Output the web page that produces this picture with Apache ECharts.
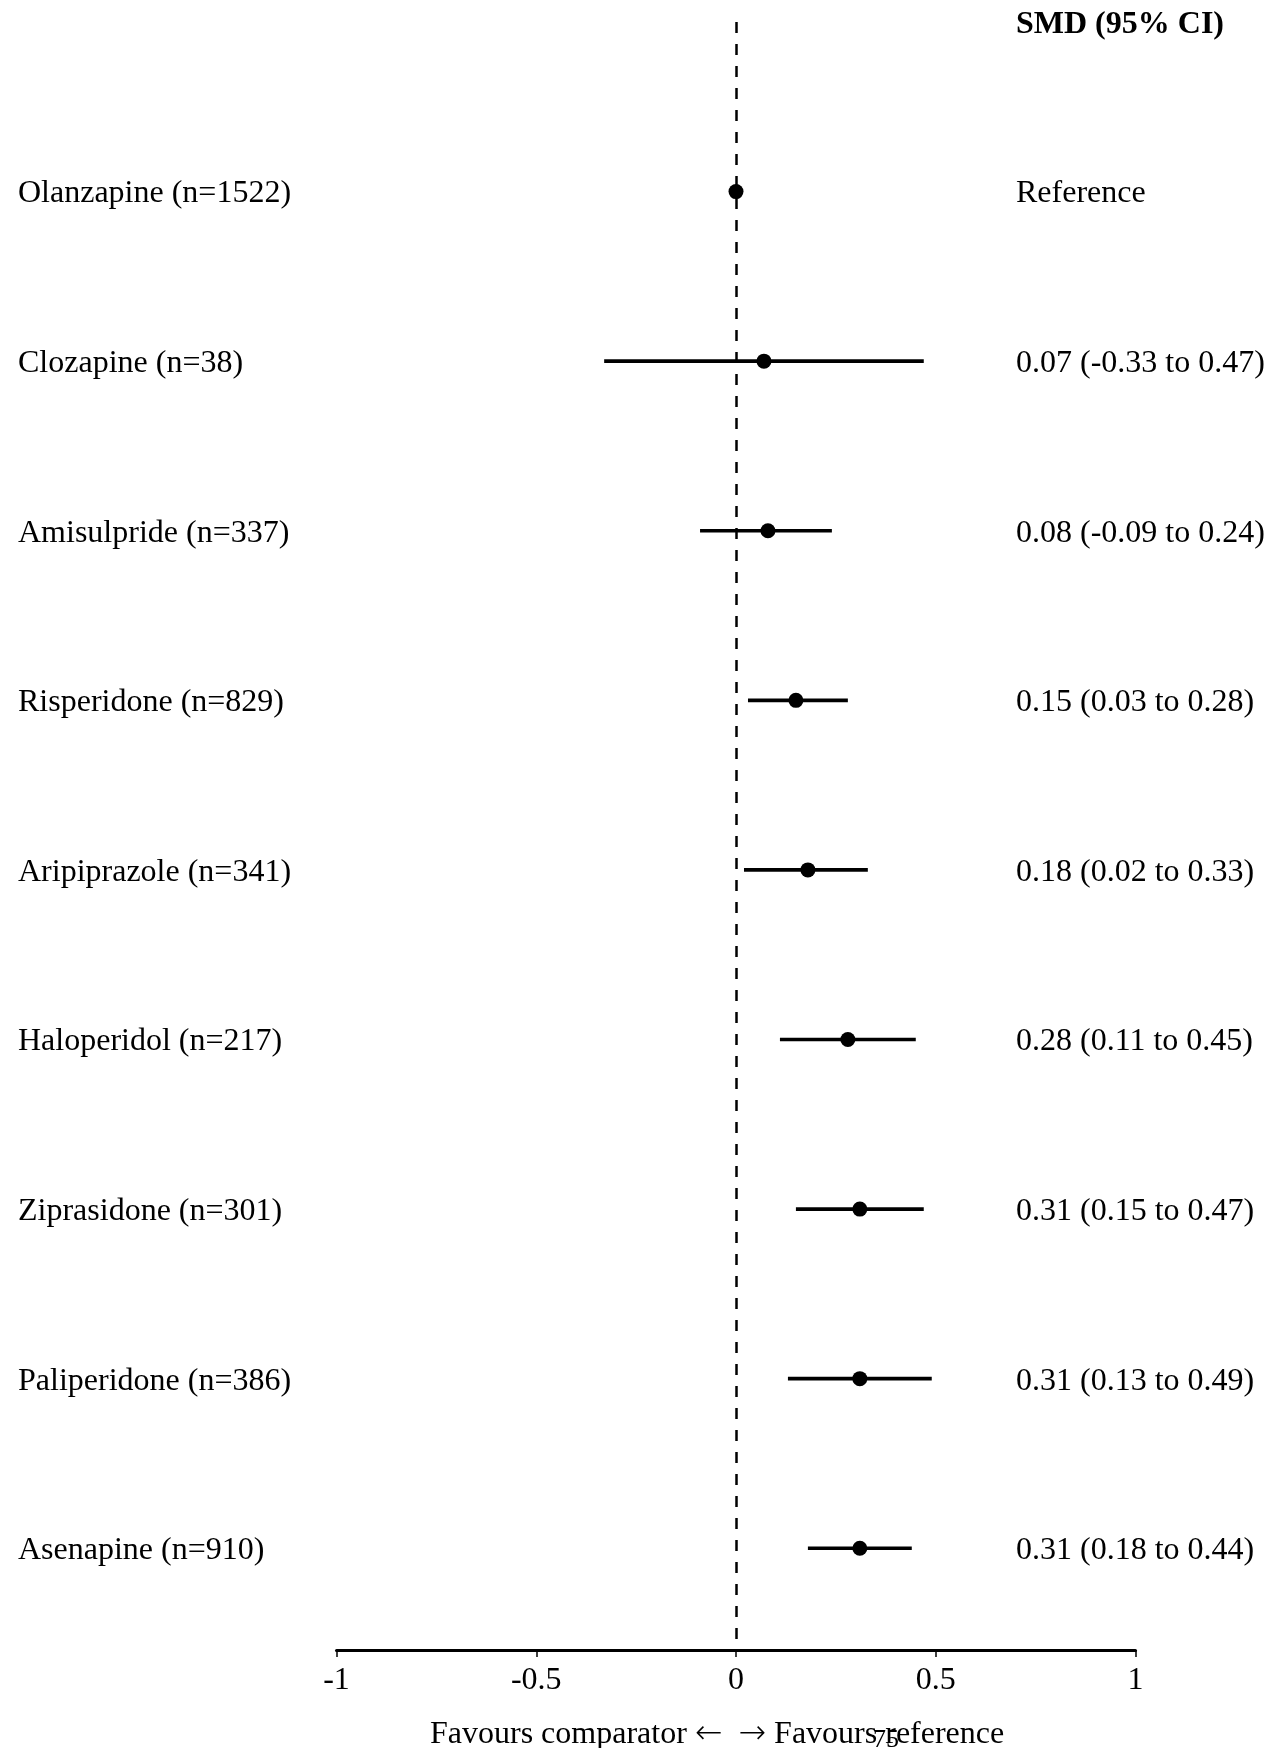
<!DOCTYPE html>
<html>
<head>
<meta charset="utf-8">
<script src="https://cdn.jsdelivr.net/npm/echarts@6/dist/echarts.min.js"></script>
<style>
html,body{margin:0;padding:0;background:#fff;}
#chart{width:1267px;height:1748px;}
</style>
</head>
<body>
<div id="chart"></div>
<script>
// ---- data ----
const drugs = ['Olanzapine (n=1522)','Clozapine (n=38)','Amisulpride (n=337)','Risperidone (n=829)','Aripiprazole (n=341)','Haloperidol (n=217)','Ziprasidone (n=301)','Paliperidone (n=386)','Asenapine (n=910)'];
const smd   = [0, 0.07, 0.08, 0.15, 0.18, 0.28, 0.31, 0.31, 0.31];
const lower = [null, -0.33, -0.09, 0.03, 0.02, 0.11, 0.15, 0.13, 0.18];
const upper = [null, 0.47, 0.24, 0.28, 0.33, 0.45, 0.47, 0.49, 0.44];
const ciText = ['Reference','0.07 (-0.33 to 0.47)','0.08 (-0.09 to 0.24)','0.15 (0.03 to 0.28)','0.18 (0.02 to 0.33)','0.28 (0.11 to 0.45)','0.31 (0.15 to 0.47)','0.31 (0.13 to 0.49)','0.31 (0.18 to 0.44)'];
const headerText = 'SMD (95% CI)';
const xTicks = [-1, -0.5, 0, 0.5, 1];
const axisTitleLeft = 'Favours comparator';
const axisTitleRight = 'Favours reference';
const pageNumber = '75';

const FONT = '"Liberation Serif", "Times New Roman", serif';
const FS = 32;
const TEXT_DY = 2.5;

const chart = echarts.init(document.getElementById('chart'), null, {renderer:'canvas'});

const ciData = [];
for (let i = 0; i < drugs.length; i++) {
  if (lower[i] !== null) ciData.push([lower[i], upper[i], i]);
}
const pointData = smd.map((v, i) => [v, i]);
const textData = drugs.map((d, i) => [0, i]);

const option = {
  backgroundColor: '#fff',
  animation: false,
  grid: { left: 336.5, right: 131.5, top: 22, bottom: 98, containLabel: false },
  xAxis: {
    type: 'value', min: -1, max: 1, interval: 0.5,
    splitLine: { show: false },
    axisLine: { show: true, onZero: false, lineStyle: { color: '#000', width: 3 } },
    axisTick: { show: true, length: 7, lineStyle: { color: '#000', width: 1.5 } },
    axisLabel: {
      color: '#000', fontFamily: FONT, fontSize: FS, margin: 15,
      formatter: v => { const t = xTicks.find(x => Math.abs(x - v) < 1e-9); return t === undefined ? '' : String(t); }
    }
  },
  yAxis: { type: 'value', min: -1, max: 8.6, inverse: true, show: false },
  series: [
    {
      type: 'scatter', data: [], silent: true,
      markLine: {
        symbol: 'none', silent: true, label: { show: false },
        lineStyle: { color: '#000', width: 2.5, type: [11, 11], opacity: 1 },
        data: [{ xAxis: 0 }]
      }
    },
    {
      type: 'custom', data: ciData, silent: true,
      renderItem: (params, api) => {
        const a = api.coord([api.value(0), api.value(2)]);
        const b = api.coord([api.value(1), api.value(2)]);
        return { type: 'line', shape: { x1: a[0], y1: a[1], x2: b[0], y2: b[1] },
                 style: { stroke: '#000', lineWidth: 3.7 } };
      }
    },
    {
      type: 'scatter', data: pointData, symbol: 'circle', symbolSize: 15, silent: true,
      itemStyle: { color: '#000', opacity: 1 }, z: 5
    },
    {
      type: 'custom', data: textData, silent: true,
      renderItem: (params, api) => {
        const p = api.coord([0, api.value(1)]);
        const idx = params.dataIndex;
        return { type: 'group', children: [
          { type: 'text', x: 18, y: p[1] + TEXT_DY, style: { text: drugs[idx], font: FS + 'px ' + FONT, fill: '#000', align: 'left', verticalAlign: 'middle' } },
          { type: 'text', x: 1016, y: p[1] + TEXT_DY, style: { text: ciText[idx], font: FS + 'px ' + FONT, fill: '#000', align: 'left', verticalAlign: 'middle' } }
        ]};
      }
    },
    {
      type: 'custom', data: [[0, -1]], silent: true,
      renderItem: (params, api) => {
        const p = api.coord([0, -1]);
        return { type: 'text', x: 1016, y: p[1] + TEXT_DY, style: { text: headerText, font: 'bold ' + FS + 'px ' + FONT, fill: '#000', align: 'left', verticalAlign: 'middle' } };
      }
    }
  ],
  graphic: [
    { type: 'text', left: 430, top: 1718, style: {
        text: '{t|' + axisTitleLeft + ' }{ar|\u2190}{t|  }{ar|\u2192}{t| ' + axisTitleRight + '}',
        fill: '#000',
        rich: {
          t: { fontFamily: FONT, fontSize: FS, fill: '#000', lineHeight: 36 },
          ar: { fontFamily: '"DejaVu Sans"', fontSize: 33, fontWeight: 200, fill: '#000', lineHeight: 36 }
        }
      } },
    { type: 'text', left: 873, top: 1727, style: { text: pageNumber, font: '26px ' + FONT, fill: '#000' } }
  ]
};
chart.setOption(option);
</script>
</body>
</html>
